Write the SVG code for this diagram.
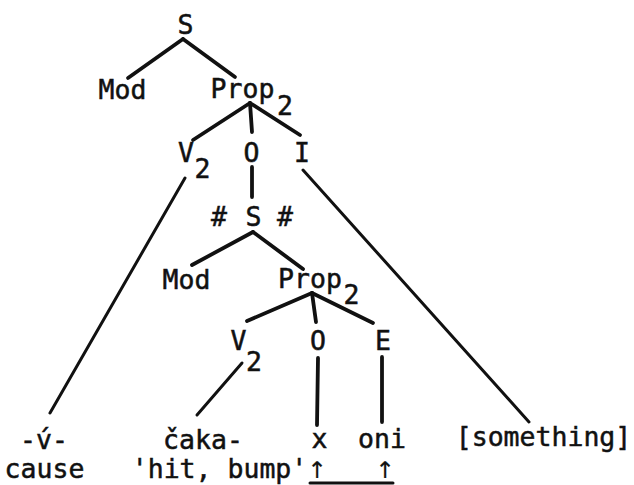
<svg xmlns="http://www.w3.org/2000/svg" width="634" height="485" viewBox="0 0 634 485">
<style>
text{font-family:"DejaVu Sans Mono","Liberation Mono",monospace;font-size:26.5px;fill:#111;stroke:#111;stroke-width:0.5;text-anchor:middle}
text.arr{font-family:"DejaVu Sans",sans-serif;font-size:23px;stroke-width:0.2}
.e{stroke:#111;stroke-width:3.8;stroke-linecap:round;fill:none}
.l{stroke:#111;stroke-width:3;stroke-linecap:round;fill:none}
</style>
<rect width="634" height="485" fill="#fff"/>
<g id="connectors">
<line class="e" x1="183" y1="39" x2="128" y2="78"/>
<line class="e" x1="183" y1="39" x2="235" y2="77"/>
<line class="e" x1="250" y1="103" x2="193" y2="140"/>
<line class="e" x1="250" y1="103" x2="252" y2="132"/>
<line class="e" x1="250" y1="103" x2="300" y2="135"/>
<line class="e" x1="252" y1="167" x2="252" y2="197"/>
<line class="l" x1="185" y1="178" x2="50" y2="413"/>
<line class="l" x1="303" y1="170" x2="529" y2="422"/>
<line class="e" x1="253" y1="232" x2="192" y2="265"/>
<line class="e" x1="253" y1="232" x2="303" y2="269"/>
<line class="e" x1="312" y1="293" x2="247" y2="321"/>
<line class="e" x1="312" y1="293" x2="316" y2="322"/>
<line class="e" x1="312" y1="293" x2="373" y2="323"/>
<line class="l" x1="242" y1="363" x2="197" y2="415"/>
<line class="e" x1="318" y1="358" x2="317" y2="425"/>
<line class="e" x1="382" y1="357" x2="382" y2="422"/>
<line class="l" x1="310" y1="483" x2="393" y2="483"/>
</g>
<g id="S1"><text x="185.5" y="34">S</text></g>
<g id="Mod1"><text x="122.5" y="99">Mod</text></g>
<g id="Prop1"><text x="242.5" y="98">Prop</text><text x="285" y="115">2</text></g>
<g id="V1"><text x="186" y="162">V</text><text x="202.5" y="178">2</text></g>
<g id="O1"><text x="251.5" y="162">O</text></g>
<g id="I1"><text x="302" y="162">I</text></g>
<g id="S2"><text x="219" y="226">#</text><text x="253.5" y="226">S</text><text x="285" y="226">#</text></g>
<g id="Mod2"><text x="186.5" y="289">Mod</text></g>
<g id="Prop2"><text x="310" y="288">Prop</text><text x="351.5" y="304">2</text></g>
<g id="V2"><text x="238.5" y="350">V</text><text x="254" y="371">2</text></g>
<g id="O2"><text x="318" y="350">O</text></g>
<g id="E2"><text x="383" y="350">E</text></g>
<g id="cause"><text x="44" y="449">-v́-</text><text x="44.5" y="478">cause</text></g>
<g id="caka"><text x="203" y="449">čaka-</text><text x="219.5" y="478">'hit, bump'</text></g>
<g id="x"><text class="arr" x="317" y="478">↑</text><text x="319.5" y="448">x</text></g>
<g id="oni"><text class="arr" x="385" y="478">↑</text><text x="382" y="448">oni</text></g>
<g id="something"><text x="543.5" y="446">[something]</text></g>
</svg>
